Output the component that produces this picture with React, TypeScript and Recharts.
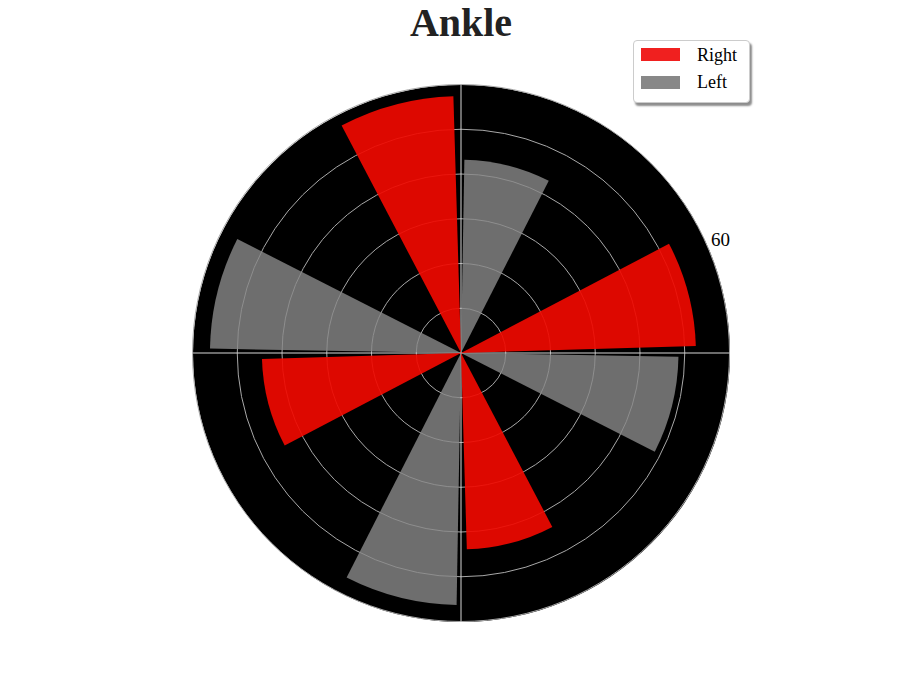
import { RadialBarChart, RadialBar, PolarAngleAxis, PolarRadiusAxis, PolarGrid } from "recharts";

const directions = ["0", "90", "180", "270"];
const rightValues = [52.5, 57.4, 44.5, 43.9];
const leftValues = [48.6, 43.2, 56.1, 56.3];
const radiusTicks = [0, 10, 20, 30, 40, 50, 60];
const gridAngles = [0, 90, 180, 270];

const data = directions.map((dir, i) => ({ dir, right: rightValues[i], left: leftValues[i] }));

const CX = 461;
const CY = 353;
const R = 268.5;
const rMax = radiusTicks[radiusTicks.length - 1];

const serif = '"Liberation Serif", "DejaVu Serif", serif';

// only the outermost label shows in the reference (the rest are black on black)
const RadiusTick = (props: any) => {
  const { x, y, payload } = props;
  if (payload.value !== rMax) return null;
  return (
    <text x={x + 2} y={y - 4} textAnchor="start" fontFamily={serif} fontSize={19} fill="#000">
      {payload.value}
    </text>
  );
};

export default function App() {
  return (
    <div style={{ position: "absolute", left: 0, top: 0, width: 900, height: 700, background: "#fff" }}>
      <div
        style={{
          position: "absolute",
          left: 0,
          top: 0,
          width: 900,
          textAlign: "center",
          paddingLeft: 22,
          boxSizing: "border-box",
          fontFamily: serif,
          fontWeight: "bold",
          fontSize: 40,
          lineHeight: "45px",
          color: "#222",
        }}
      >
        Ankle
      </div>
      <div
        style={{
          position: "absolute",
          left: CX - R,
          top: CY - R,
          width: R * 2,
          height: R * 2,
          borderRadius: "50%",
          background: "#000",
        }}
      />
      <div style={{ position: "absolute", left: 0, top: 0 }}>
        <RadialBarChart
          width={900}
          height={700}
          data={data}
          layout="centric"
          cx={CX}
          cy={CY}
          innerRadius={0}
          outerRadius={R}
          startAngle={45}
          endAngle={405}
          barCategoryGap="20%"
          barGap={2.7}
          margin={{ top: 0, right: 0, bottom: 0, left: 0 }}
        >
          <PolarGrid gridType="circle" radialLines={false} stroke="#a8a8a8" strokeWidth={1} />
          <PolarGrid gridType="circle" polarRadius={[]} polarAngles={gridAngles} stroke="#d8d8d8" strokeWidth={1} />
          <PolarAngleAxis type="category" dataKey="dir" tick={false} axisLine={false} tickLine={false} />
          <PolarRadiusAxis
            type="number"
            domain={[0, rMax]}
            ticks={radiusTicks}
            angle={22.5}
            axisLine={false}
            tickLine={false}
            tick={<RadiusTick />}
          />
          <RadialBar dataKey="left" name="Left" fill="#888888" fillOpacity={0.81} isAnimationActive={false} />
          <RadialBar dataKey="right" name="Right" fill="#f00900" fillOpacity={0.92} isAnimationActive={false} />
        </RadialBarChart>
      </div>
      <div
        style={{
          position: "absolute",
          left: 633,
          top: 40,
          width: 117,
          height: 63,
          boxSizing: "border-box",
          background: "#fff",
          border: "1px solid #cccccc",
          borderRadius: 4,
          boxShadow: "2px 3px 2px rgba(0,0,0,0.45)",
          fontFamily: serif,
          fontSize: 18,
          color: "#000",
        }}
      >
        <div style={{ position: "absolute", left: 7, top: 7, width: 39, height: 13, background: "#f0201f" }} />
        <div style={{ position: "absolute", left: 63, top: 4, lineHeight: "20px" }}>Right</div>
        <div style={{ position: "absolute", left: 7, top: 35, width: 39, height: 13, background: "#888888" }} />
        <div style={{ position: "absolute", left: 63, top: 31, lineHeight: "20px" }}>Left</div>
      </div>
    </div>
  );
}
